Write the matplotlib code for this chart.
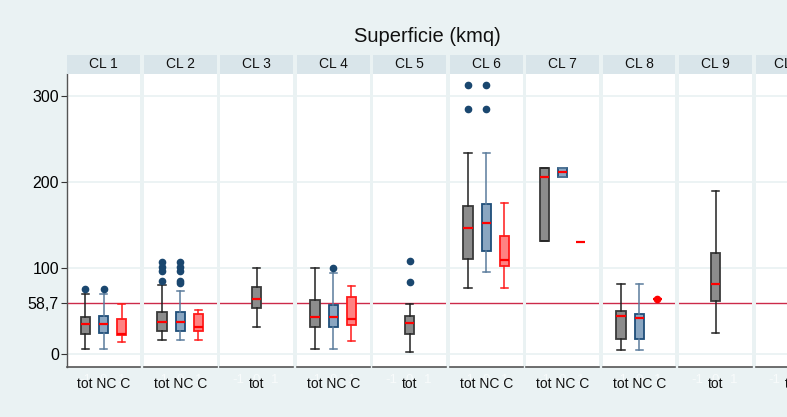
import matplotlib
matplotlib.use("Agg")
import matplotlib.pyplot as plt

plt.rcParams['font.family'] = ['Liberation Sans', 'DejaVu Sans']

# ---------------- data ----------------
classes = ['CL 1', 'CL 2', 'CL 3', 'CL 4', 'CL 5', 'CL 6', 'CL 7', 'CL 8', 'CL 9', 'CL 10']
three_group = [True, True, False, True, False, True, True, True, False, False]
ref_value = 58.7
ytick_vals = [0, 58.7, 100, 200, 300]
ytick_labels = ['0', '58,7', '100', '200', '300']

# "tot" series: CL1..CL9 (CL10 is outside the visible area)
tot_med = [34.5, 37.2, 64.3, 43.4, 35.6, 146.1, 205.4, 44.2, 81.0]
tot_q1 = [22.9, 26.7, 53.9, 31.0, 23.6, 110.5, 131.4, 17.8, 61.2]
tot_q3 = [43.4, 48.8, 77.5, 62.8, 44.2, 172.1, 215.9, 49.6, 117.8]
tot_lo = [5.4, 15.9, 31.4, 5.8, 2.3, 77.1, 131.4, 5.0, 24.8]
tot_hi = [70.2, 80.6, 100.4, 99.6, 57.7, 233.3, 215.9, 81.4, 189.2]
tot_out = [[76], [85, 96, 101, 107], [], [], [84, 108], [284.5, 312], [], [], []]

# "NC" series: CL1, CL2, CL4, CL6, CL7, CL8
nc_cls = [0, 1, 3, 5, 6, 7]
nc_med = [35.3, 37.5, 43.4, 152.7, 210.9, 41.5]
nc_q1 = [24.0, 26.9, 31.0, 119.4, 205.4, 17.8]
nc_q3 = [44.2, 48.8, 56.6, 174.0, 215.9, 46.5]
nc_lo = [5.4, 16.3, 5.8, 95.0, 205.4, 5.0]
nc_hi = [70.2, 73.6, 93.8, 233.3, 215.9, 81.4]
nc_out = [[76], [83, 85, 96, 101, 107], [100], [284.5, 312], [], []]

# "C" series: CL1, CL2, CL4, CL6, CL7, CL8
c_cls = [0, 1, 3, 5, 6, 7]
c_med = [23.0, 31.8, 40.3, 109.3, 130.6, 64.3]
c_q1 = [22.5, 26.4, 33.3, 102.3, 130.6, 64.3]
c_q3 = [41.1, 46.9, 65.9, 137.2, 130.6, 64.3]
c_lo = [13.6, 15.9, 15.5, 77.1, 130.6, 64.3]
c_hi = [58.1, 51.2, 79.5, 175.2, 130.6, 64.3]
c_out = [[], [], [], [], [], [64.3]]

# ---------------- styling ----------------
W, H = 787, 417
BG = '#eaf2f3'
STRIP = '#d9e5ea'
fig = plt.figure(figsize=(W / 100, H / 100), dpi=100)
fig.patch.set_facecolor(BG)

styles = {
    'tot': dict(face='#8c8c8c', edge='#3a3a3a', whisk='#222222', flier='#1a476f'),
    'NC': dict(face='#8aa6c1', edge='#1f4e79', whisk='#5b7c9c', flier='#1a476f'),
    'C': dict(face='#ff8282', edge='#ff1a1a', whisk='#ff1a1a', flier='#ff0000'),
}


def stat(med, q1, q3, lo, hi, out):
    return dict(med=med, q1=q1, q3=q3, whislo=lo, whishi=hi, fliers=out)


def draw(ax, st, pos, key):
    s = styles[key]
    ax.bxp([st], positions=[pos], widths=0.5, capwidths=0.4, patch_artist=True,
           showfliers=True,
           boxprops=dict(facecolor=s['face'], edgecolor=s['edge'], linewidth=1.3),
           whiskerprops=dict(color=s['whisk'], linewidth=1.1),
           capprops=dict(color=s['whisk'], linewidth=1.1),
           medianprops=dict(color='#ff0000', linewidth=1.6),
           flierprops=dict(marker='o', markerfacecolor=s['flier'],
                           markeredgecolor=s['flier'], markersize=4.5),
           zorder=3)


left0, period, pw = 67.3, 76.5, 72.7
top_px, bot_px, strip_top = 74.0, 366.7, 55.0

for i, name in enumerate(classes):
    left = left0 + i * period
    ax = fig.add_axes([left / W, (H - bot_px) / H, pw / W, (bot_px - top_px) / H])
    ax.set_facecolor('white')
    ax.set_xlim(-2, 2)
    ax.set_ylim(-14.7, 325.2)
    for g in [0, 100, 200, 300]:
        ax.axhline(g, color=BG, lw=1.3, zorder=0)
    ax.axhline(ref_value, color='#cc2a4a', lw=1.0, zorder=1)

    for sp in ['top', 'right']:
        ax.spines[sp].set_visible(False)
    ax.spines['bottom'].set_color('#555555')
    ax.spines['bottom'].set_linewidth(1.2)
    if i == 0:
        ax.spines['left'].set_color('#555555')
        ax.spines['left'].set_linewidth(1.0)
        ax.set_yticks(ytick_vals)
        ax.set_yticklabels(ytick_labels, fontsize=11.5)
        ax.tick_params(axis='y', length=4, width=0.8, color='#333333', pad=2)
    else:
        ax.spines['left'].set_visible(False)
        ax.set_yticks([])

    if i < len(tot_med):
        pos = -1 if three_group[i] else 0
        draw(ax, stat(tot_med[i], tot_q1[i], tot_q3[i], tot_lo[i], tot_hi[i], tot_out[i]), pos, 'tot')
    if i in nc_cls:
        k = nc_cls.index(i)
        draw(ax, stat(nc_med[k], nc_q1[k], nc_q3[k], nc_lo[k], nc_hi[k], nc_out[k]), 0, 'NC')
    if i in c_cls:
        k = c_cls.index(i)
        draw(ax, stat(c_med[k], c_q1[k], c_q3[k], c_lo[k], c_hi[k], c_out[k]), 1, 'C')

    # faint numeric ticks (as in the original) and category label
    ax.set_xlim(-2, 2)
    ax.set_xticks([-1, 0, 1])
    ax.set_xticklabels(['-1', '0', '1'], color='#f8fbfb', fontsize=9.5)
    ax.tick_params(axis='x', length=0, pad=5)
    lab = 'tot NC C' if three_group[i] else 'tot'
    ax.text(0, -0.034, lab, transform=ax.get_xaxis_transform(), ha='center', va='top',
            fontsize=10, color='#111111')

    # header strip
    hax = fig.add_axes([left / W, (H - top_px) / H, pw / W, (top_px - strip_top) / H])
    hax.set_facecolor(STRIP)
    for sp in hax.spines.values():
        sp.set_visible(False)
    hax.set_xticks([])
    hax.set_yticks([])
    hax.text(0.5, 0.5, name, ha='center', va='center', fontsize=10, color='#111111',
             transform=hax.transAxes)

fig.text(427 / W, 1 - 37 / H, 'Superficie (kmq)', ha='center', va='center', fontsize=14.5,
         color='#111111')

fig.savefig('out.png', dpi=100, facecolor=BG)
